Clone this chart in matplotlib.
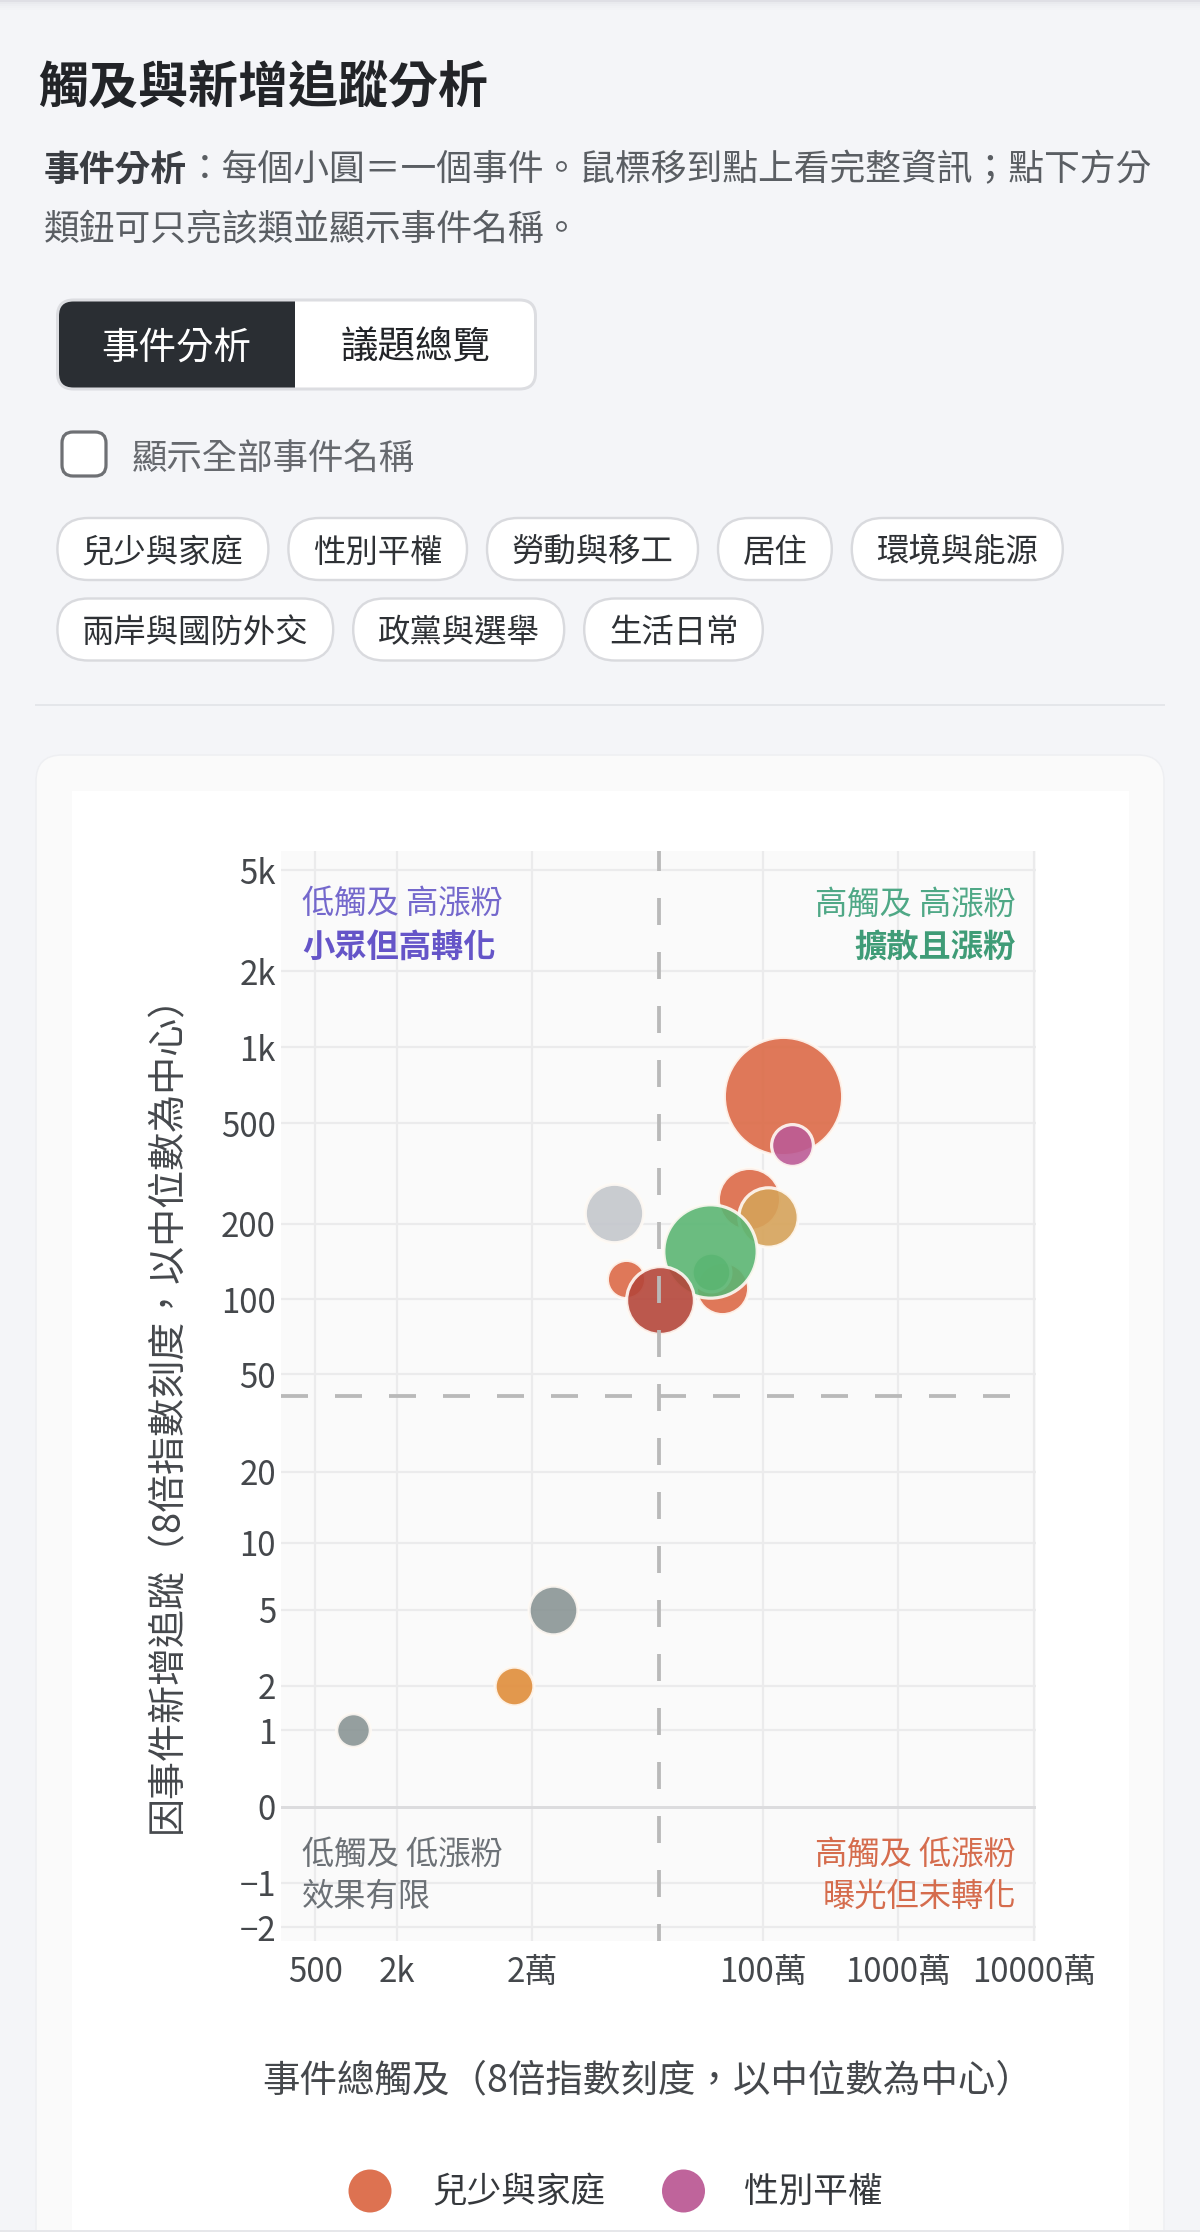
import numpy as np
import matplotlib
matplotlib.use("Agg")
import matplotlib.pyplot as plt
from matplotlib.patches import FancyBboxPatch, Rectangle, Circle

FONT = ['Noto Sans CJK TC', 'DejaVu Sans']
plt.rcParams['font.family'] = FONT
plt.rcParams['lines.scale_dashes'] = False
plt.rcParams['axes.unicode_minus'] = True

# ---------------- data ----------------
categories = ["兒少與家庭", "性別平權", "勞動與移工", "居住", "環境與能源",
              "兩岸與國防外交", "政黨與選舉", "生活日常"]
category_colors = ["#DC6A47", "#BC5C96", "#D6A35A", "#E08D3A", "#5BB673",
                   "#B5463A", "#8A9595", "#C4C7CC"]

event_category = ["兒少與家庭", "兒少與家庭", "兒少與家庭", "兒少與家庭",
                  "性別平權", "勞動與移工", "居住", "環境與能源", "環境與能源",
                  "兩岸與國防外交", "政黨與選舉", "政黨與選舉", "生活日常"]
event_reach = [1410000, 793000, 505000, 98000,
               1650000, 1100000, 14600, 419000, 407000,
               174000, 28400, 960, 80100]
event_new_follows = [640, 250, 111, 121,
                     410, 213, 2, 129, 156,
                     99, 5, 1, 220]
event_weight = [3690, 1070, 770, 430,
                505, 980, 441, 441, 2330,
                1260, 676, 339, 950]

median_reach = 173000
median_follows = 41

y_ticks = [-2, -1, 0, 1, 2, 5, 10, 20, 50, 100, 200, 500, 1000, 2000, 5000]
y_tick_labels = ["−2", "−1", "0", "1", "2", "5", "10", "20", "50", "100",
                 "200", "500", "1k", "2k", "5k"]
x_ticks = [500, 2000, 20000, 1000000, 10000000, 100000000]
x_tick_labels = ["500", "2k", "2萬", "100萬", "1000萬", "10000萬"]

legend_items = ["兒少與家庭", "性別平權"]
chip_labels = categories

# ---------------- figure ----------------
W, H = 1200, 2232
PX = 100 / 72.0  # pixels per point
DY = 3.5         # vertical text correction (px)
fig = plt.figure(figsize=(W / 100, H / 100), dpi=100)
fig.patch.set_facecolor("#F4F5F8")

bg = fig.add_axes([0, 0, 1, 1])
bg.set_xlim(0, W)
bg.set_ylim(H, 0)
bg.axis("off")
bg.set_zorder(0)


def pt(px):
    return px / PX


# top border / shadow
for i, a in enumerate([0.35, 0.18, 0.10, 0.06, 0.03]):
    bg.add_line(plt.Line2D([0, W], [0.5 + i * 2, 0.5 + i * 2], color="#B8B8C2",
                           lw=pt(2), alpha=a))

# title & subtitle
bg.text(38, 85 + DY, "觸及與新增追蹤分析", fontsize=pt(50), fontweight="bold",
        color="#222428", va="center", ha="left")
bg.text(43.6, 167 + DY, "事件分析", fontsize=pt(35.8), fontweight="bold",
        color="#3A3D42", va="center", ha="left")
bg.text(43.6 + 4 * 35.8, 167 + DY, "：每個小圓＝一個事件。鼠標移到點上看完整資訊；點下方分",
        fontsize=pt(35.8), color="#5A5E63", va="center", ha="left")
bg.text(43.6, 226 + DY, "類鈕可只亮該類並顯示事件名稱。", fontsize=pt(35.8),
        color="#5A5E63", va="center", ha="left")

# segmented tabs
bg.add_patch(FancyBboxPatch((57.5, 300), 478, 89, boxstyle="round,pad=0,rounding_size=16",
                            fc="white", ec="none", zorder=1))
bg.add_patch(FancyBboxPatch((57.5, 300), 237, 89, boxstyle="round,pad=0,rounding_size=16",
                            fc="#2A2E33", ec="none", zorder=2))
bg.add_patch(Rectangle((270, 300), 24.5, 89, fc="#2A2E33", ec="none", zorder=2))
bg.add_patch(FancyBboxPatch((57.5, 300), 478, 89, boxstyle="round,pad=0,rounding_size=16",
                            fc="none", ec="#DCDDE1", lw=pt(3), zorder=3))
bg.text(176, 345 + DY, "事件分析", fontsize=pt(37.5), color="white", va="center", ha="center", zorder=4)
bg.text(415, 345 + DY, "議題總覽", fontsize=pt(37.5), color="#222428", va="center", ha="center", zorder=4)

# checkbox
bg.add_patch(FancyBboxPatch((62, 432), 44, 44, boxstyle="round,pad=0,rounding_size=11",
                            fc="white", ec="#6E7074", lw=pt(3.2), zorder=2))
bg.text(132, 455 + DY, "顯示全部事件名稱", fontsize=pt(35.4), color="#66696E",
        va="center", ha="left")

# chips
chip_char = 32.4
chip_x, chip_y = 57.4, 518
row_h = 62
for lab in chip_labels:
    w = chip_char * len(lab) + 49
    if chip_x + w > 1140:
        chip_x = 57.4
        chip_y += 80.5
    bg.add_patch(FancyBboxPatch((chip_x, chip_y), w, row_h,
                                boxstyle="round,pad=0,rounding_size=31",
                                fc="white", ec="#D9DADE", lw=pt(2.4), zorder=2))
    bg.text(chip_x + w / 2, chip_y + row_h / 2 + DY, lab, fontsize=pt(chip_char),
            color="#2E3135", va="center", ha="center", zorder=3)
    chip_x += w + 20

# divider
bg.add_line(plt.Line2D([36, 1164], [705, 705], color="#E4E6EA", lw=pt(2)))

# card
bg.add_patch(FancyBboxPatch((36, 755), 1128, 1600, boxstyle="round,pad=0,rounding_size=26",
                            fc="#FAFAFA", ec="#EEEFF2", lw=pt(1.5), zorder=1))
bg.add_patch(Rectangle((71.5, 791), 1057, 1600, fc="white", ec="none", zorder=1.5))
bg.add_line(plt.Line2D([0, W], [2231, 2231], color="#E6E7EA", lw=pt(2), zorder=3))

# ---------------- main plot ----------------
L, R, T, B = 281, 1036, 851, 1941
ax = fig.add_axes([L / W, 1 - B / H, (R - L) / W, (B - T) / H])
ax.set_zorder(2)
ax.set_facecolor("#FAFAFA")


def fwd(v):
    v = np.asarray(v, dtype=float)
    return np.sign(v) * np.log10(1 + np.abs(v))


def inv(u):
    u = np.asarray(u, dtype=float)
    return np.sign(u) * (10 ** np.abs(u) - 1)


ax.set_xscale("function", functions=(fwd, inv))
ax.set_yscale("function", functions=(fwd, inv))
ax.set_xlim(280, 1.034e8)
ax.set_ylim(-2.40, 5970)

for s in ax.spines.values():
    s.set_visible(False)

ax.set_xticks(x_ticks)
ax.set_xticklabels(x_tick_labels)
ax.set_yticks(y_ticks)
ax.set_yticklabels(y_tick_labels)
ax.tick_params(axis="both", length=0, labelsize=pt(33), labelcolor="#45484C")
ax.tick_params(axis="x", pad=pt(14))
ax.tick_params(axis="y", pad=pt(5))
ax.minorticks_off()

for xv in x_ticks:
    ax.axvline(xv, color="#EBEBEC", lw=pt(2.2), zorder=0.5)
for yv in y_ticks:
    ax.axhline(yv, color="#DCDCDE" if yv == 0 else "#EBEBEC",
               lw=pt(3) if yv == 0 else pt(2.2), zorder=0.5)

# bubbles
lw_edge = 3.2
color_of = dict(zip(categories, category_colors))
for i, (c, xr, yf, wgt) in enumerate(zip(event_category, event_reach,
                                         event_new_follows, event_weight)):
    r_px = np.sqrt(wgt)
    d_pt = 2 * (pt(r_px) - pt(lw_edge) / 2)
    ax.scatter([xr], [yf], s=d_pt ** 2, c=color_of[c], alpha=0.9,
               edgecolors="#FFFAF5", linewidths=pt(lw_edge), zorder=3 + i * 0.01)

# median lines
ax.axvline(median_reach, color="#B9B9B9", lw=pt(3.8), ls=(pt(10), (pt(27), pt(27))), zorder=5)
ax.axhline(median_follows, color="#B9B9B9", lw=pt(3.8), ls=(0, (pt(27), pt(27))), zorder=5)

# quadrant labels
qfs = pt(32.3)
xl = (302 - L) / (R - L)
xr_ = (1016 - L) / (R - L)


def yfrac(py):
    return (B - py - DY) / (B - T)


ax.text(xl, yfrac(901), "低觸及 高漲粉", transform=ax.transAxes, fontsize=qfs,
        color="#7468CC", ha="left", va="center", zorder=6)
ax.text(xl, yfrac(944), "小眾但高轉化", transform=ax.transAxes, fontsize=qfs,
        color="#6555C8", fontweight="bold", ha="left", va="center", zorder=6)
ax.text(xr_, yfrac(901), "高觸及 高漲粉", transform=ax.transAxes, fontsize=qfs,
        color="#4FA886", ha="right", va="center", zorder=6)
ax.text(xr_, yfrac(944), "擴散且漲粉", transform=ax.transAxes, fontsize=qfs,
        color="#3F9C77", fontweight="bold", ha="right", va="center", zorder=6)
ax.text(xl, yfrac(1852), "低觸及 低漲粉", transform=ax.transAxes, fontsize=qfs,
        color="#6C7176", ha="left", va="center", zorder=6)
ax.text(xl, yfrac(1893), "效果有限", transform=ax.transAxes, fontsize=qfs,
        color="#6C7176", ha="left", va="center", zorder=6)
ax.text(xr_, yfrac(1852), "高觸及 低漲粉", transform=ax.transAxes, fontsize=qfs,
        color="#D56C4D", ha="right", va="center", zorder=6)
ax.text(xr_, yfrac(1893), "曝光但未轉化", transform=ax.transAxes, fontsize=qfs,
        color="#D56C4D", ha="right", va="center", zorder=6)

# axis titles (in page coords)
bg.text(168, 1404, "因事件新增追蹤（8倍指數刻度，以中位數為中心）", rotation=90,
        fontsize=pt(38), color="#45484C", ha="center", va="center", zorder=3)
bg.text(648, 2076 + DY + 1.5, "事件總觸及（8倍指數刻度，以中位數為中心）",
        fontsize=pt(37.5), color="#45484C", ha="center", va="center", zorder=3)

# legend
leg_pos = [(370, 432), (683.5, 744)]
for lab, (cx, tx) in zip(legend_items, leg_pos):
    bg.add_patch(Circle((cx, 2191), 21.5, fc=color_of[lab], ec="none", alpha=0.95, zorder=3))
    bg.text(tx, 2191 + DY - 2, lab, fontsize=pt(34.7), color="#35383C", ha="left",
            va="center", zorder=3)

fig.savefig("out.png", dpi=100)
